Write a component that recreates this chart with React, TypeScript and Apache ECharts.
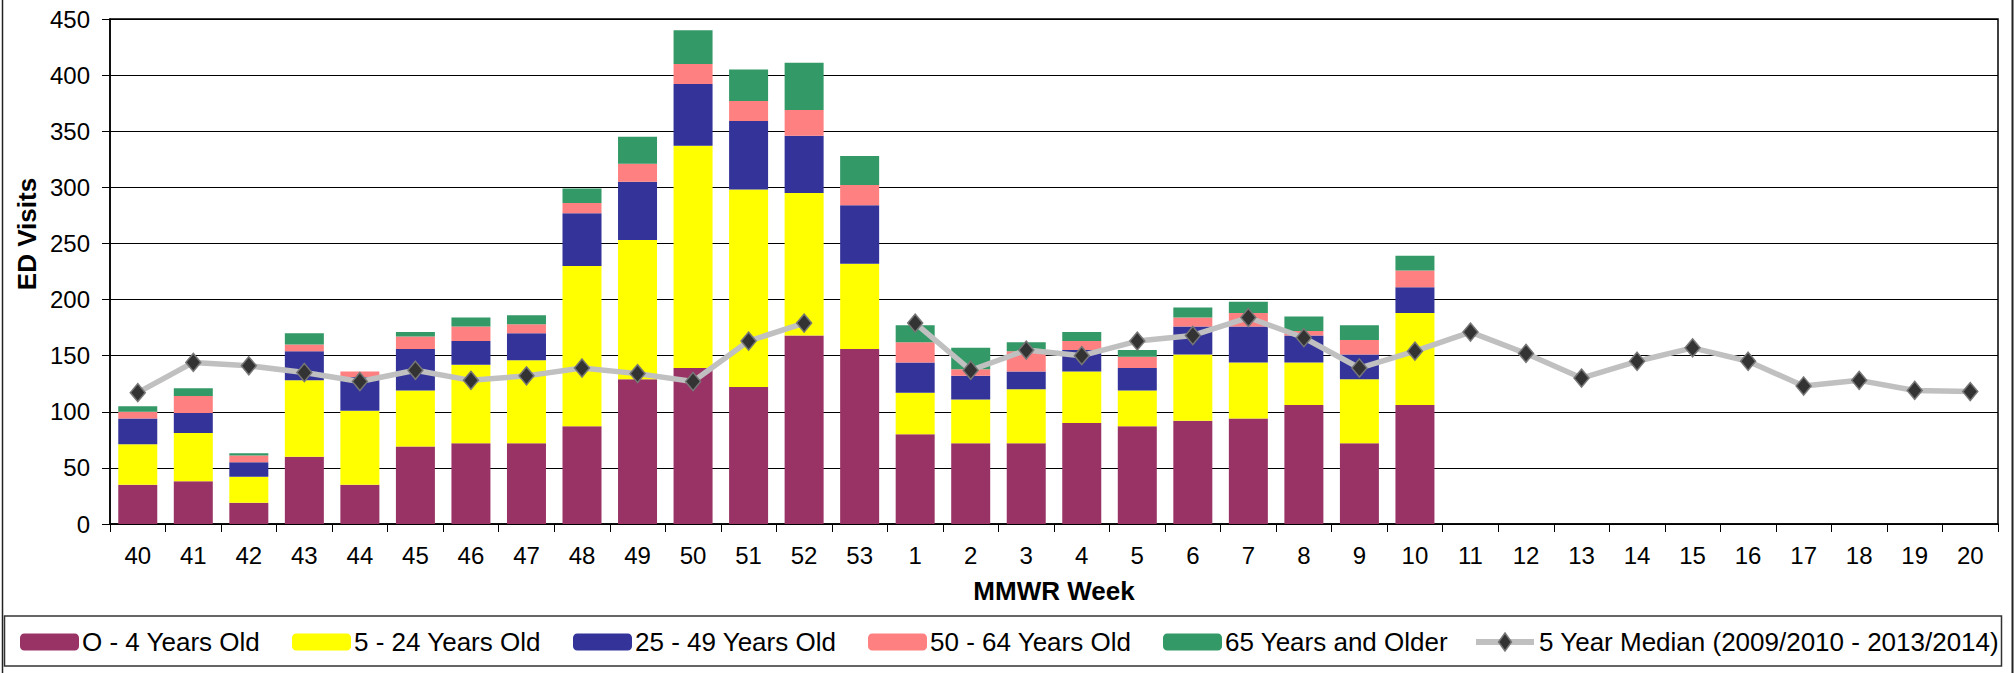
import React, { useEffect, useRef } from "react";
import * as echarts from "echarts";

const weeks = [
  "40", "41", "42", "43", "44", "45", "46", "47", "48", "49", "50", "51", "52", "53",
  "1", "2", "3", "4", "5", "6", "7", "8", "9", "10", "11", "12", "13", "14", "15", "16", "17", "18", "19", "20",
];

const age0to4 = [35, 38, 19, 60, 35, 69, 72, 72, 87, 129, 139, 122, 168, 156, 80, 72, 72, 90, 87, 92, 94, 106, 72, 106];
const age5to24 = [36, 43, 23, 68, 66, 50, 70, 74, 143, 124, 198, 176, 127, 76, 37, 39, 48, 46, 32, 59, 50, 38, 57, 82];
const age25to49 = [23, 18, 13, 26, 30, 37, 21, 24, 47, 52, 55, 61, 51, 52, 27, 21, 16, 19, 20, 25, 32, 24, 22, 23];
const age50to64 = [6, 15, 6, 6, 5, 11, 13, 8, 9, 16, 18, 18, 23, 18, 18, 6, 18, 8, 10, 8, 12, 4, 13, 15];
const age65plus = [5, 7, 2, 10, 0, 4, 8, 8, 13, 24, 30, 28, 42, 26, 15, 19, 8, 8, 6, 9, 10, 13, 13, 13];

const median5yr = [
  117, 144, 141, 135, 127, 137, 128, 132, 139, 134, 127, 163, 179, null,
  179, 137, 155, 150, 163, 168, 184, 166, 139, 154, 171, 152, 130, 145, 157, 145, 123, 128, 119, 118,
];

const seriesNames = [
  "O - 4 Years Old",
  "5 - 24 Years Old",
  "25 - 49 Years Old",
  "50 - 64 Years Old",
  "65 Years and Older",
  "5 Year Median (2009/2010 - 2013/2014)",
];
const seriesColors = ["#993366", "#FFFF00", "#333399", "#FF8080", "#339966"];
const legendLefts = [20, 292, 573, 868, 1163, 1475];

const FONT = "'Liberation Sans', Arial, Helvetica, sans-serif";

export default function App() {
  const ref = useRef<HTMLDivElement>(null);

  useEffect(() => {
    if (!ref.current) return;
    const chart = echarts.init(ref.current, null, { renderer: "svg" });
    const barData = [age0to4, age5to24, age25to49, age50to64, age65plus];

    const bars = barData.map((d, i) => ({
      name: seriesNames[i],
      type: "bar",
      stack: "visits",
      barWidth: 39,
      data: d,
      itemStyle: { color: seriesColors[i] },
      z: 2,
    }));

    const legendTop = 629;
    const legendIconH = 17;
    const legendMidY = legendTop + 13;

    const legends = seriesNames.map((n, i) => ({
      data: [n],
      left: legendLefts[i],
      top: legendTop,
      padding: 0,
      itemGap: 0,
      itemWidth: i === 5 ? 60 : 59,
      itemHeight: legendIconH,
      selectedMode: false,
      textStyle: { fontSize: 26, color: "#000", fontFamily: FONT, padding: [0, 0, 0, -2] },
    }));

    const iconX = legendLefts[5];
    const iconCx = iconX + 30;

    const option = {
      animation: false,
      backgroundColor: "#ffffff",
      textStyle: { fontFamily: FONT },
      grid: {
        left: 110,
        right: 16,
        top: 19,
        bottom: 149,
        show: true,
        borderColor: "#000",
        borderWidth: 1.5,
        backgroundColor: "transparent",
      },
      legend: legends,
      xAxis: {
        type: "category",
        data: weeks,
        boundaryGap: true,
        axisLine: { show: true, lineStyle: { color: "#000", width: 1.5 } },
        axisTick: { show: true, interval: 0, length: 8, lineStyle: { color: "#000" } },
        axisLabel: { interval: 0, color: "#000", fontSize: 24, margin: 19, fontFamily: FONT },
        splitLine: { show: false },
      },
      yAxis: {
        type: "value",
        min: 0,
        max: 450,
        interval: 50,
        axisLine: { show: true, lineStyle: { color: "#000", width: 1.5 } },
        axisTick: { show: true, length: 8, lineStyle: { color: "#000" } },
        axisLabel: { color: "#000", fontSize: 24, margin: 20, fontFamily: FONT },
        splitLine: { show: true, lineStyle: { color: "#000", width: 1 } },
      },
      series: [
        ...bars,
        {
          name: seriesNames[5],
          type: "line",
          data: median5yr,
          connectNulls: false,
          symbol: "diamond",
          symbolSize: [15, 18],
          itemStyle: { color: "#333333", borderColor: "#777777", borderWidth: 1.5 },
          lineStyle: { color: "#C0C0C0", width: 5.5 },
          z: 10,
        },
      ],
      graphic: [
        {
          type: "text",
          x: 27,
          y: 234,
          rotation: Math.PI / 2,
          style: {
            text: "ED Visits",
            fill: "#000",
            font: `bold 26px ${FONT}`,
            align: "center",
            verticalAlign: "middle",
          },
        },
        {
          type: "text",
          x: 1054,
          y: 591,
          style: {
            text: "MMWR Week",
            fill: "#000",
            font: `bold 26px ${FONT}`,
            align: "center",
            verticalAlign: "middle",
          },
        },
        {
          type: "rect",
          shape: { x: 4.5, y: 616, width: 1997, height: 50 },
          style: { fill: "none", stroke: "#333", lineWidth: 1.5 },
          z: 0,
        },
        {
          type: "rect",
          shape: { x: iconX - 1, y: legendMidY - 11, width: 62, height: 22 },
          style: { fill: "#fff" },
          z: 200,
        },
        {
          type: "line",
          shape: { x1: iconX + 1, y1: legendMidY, x2: iconX + 59, y2: legendMidY },
          style: { stroke: "#C0C0C0", lineWidth: 6 },
          z: 201,
        },
        {
          type: "polygon",
          shape: {
            points: [
              [iconCx, legendMidY - 9],
              [iconCx + 6.5, legendMidY],
              [iconCx, legendMidY + 9],
              [iconCx - 6.5, legendMidY],
            ],
          },
          style: { fill: "#333333", stroke: "#777777", lineWidth: 1.5 },
          z: 202,
        },
        {
          type: "line",
          shape: { x1: 2.5, y1: 0, x2: 2.5, y2: 673 },
          style: { stroke: "#222", lineWidth: 1.5 },
        },
        {
          type: "line",
          shape: { x1: 2012.5, y1: 0, x2: 2012.5, y2: 673 },
          style: { stroke: "#222", lineWidth: 2 },
        },
      ],
    };

    chart.setOption(option as any);
    return () => chart.dispose();
  }, []);

  return (
    <div
      ref={ref}
      style={{ position: "absolute", left: 0, top: 0, width: 2014, height: 673, background: "#fff" }}
    />
  );
}
